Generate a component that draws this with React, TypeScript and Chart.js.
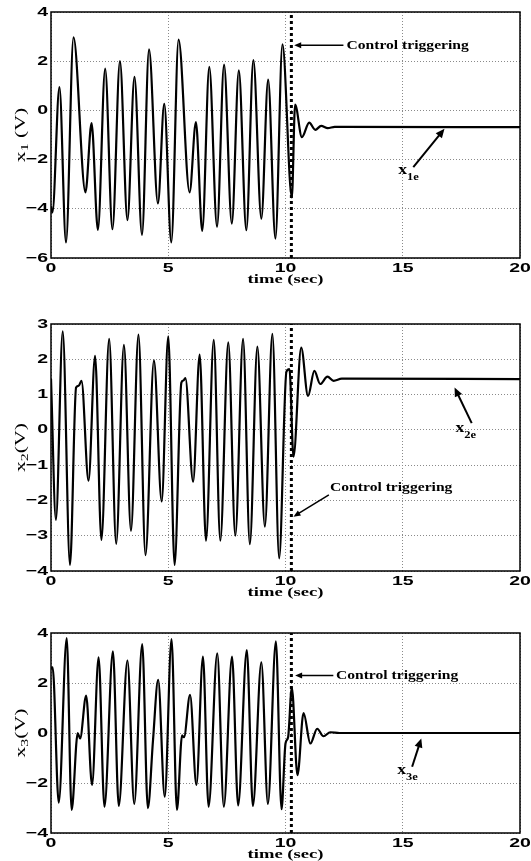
import React, { useEffect, useRef } from 'react';
import { Chart, registerables } from 'chart.js';

Chart.register(...registerables);

// ---------- data ----------
const xTicks = [0, 5, 10, 15, 20];
const y1Ticks = [-6, -4, -2, 0, 2, 4];
const y2Ticks = [-4, -3, -2, -1, 0, 1, 2, 3];
const y3Ticks = [-4, -2, 0, 2, 4];
const triggerTime = 10.25;

const t1 = [0, 0.06, 0.36, 0.64, 0.96, 1.47, 1.73, 2.0, 2.31, 2.62, 2.94, 3.26, 3.56, 3.88, 4.18, 4.56, 4.83, 5.13, 5.44, 5.91, 6.18, 6.45, 6.75, 7.08, 7.38, 7.71, 8.01, 8.33, 8.63, 8.97, 9.26, 9.57, 9.87, 10.27, 10.41, 10.7, 11.01, 11.27, 11.52, 11.8, 12.1, 20];
const x1 = [-3.9, -4.15, 0.95, -5.37, 2.97, -3.33, -0.52, -4.86, 1.7, -4.83, 2.0, -4.46, 1.36, -5.06, 2.48, -3.78, 0.27, -5.37, 2.88, -3.33, -0.48, -4.9, 1.77, -4.73, 1.86, -4.6, 1.63, -4.87, 2.04, -4.4, 1.25, -5.21, 2.68, -3.54, 0.24, -1.09, -0.5, -0.79, -0.63, -0.72, -0.67, -0.68];

const t2 = [0, 0.21, 0.5, 0.81, 1.07, 1.18, 1.3, 1.6, 1.88, 2.15, 2.48, 2.78, 3.11, 3.41, 3.73, 4.03, 4.39, 4.72, 5.0, 5.27, 5.56, 5.65, 5.73, 6.06, 6.34, 6.61, 6.94, 7.22, 7.56, 7.86, 8.19, 8.48, 8.8, 9.12, 9.44, 9.73, 10.04, 10.17, 10.34, 10.67, 10.96, 11.23, 11.48, 11.79, 12.05, 12.4, 20];
const x2 = [1.45, -2.55, 2.79, -3.83, 1.2, 1.25, 1.39, -1.44, 2.1, -3.12, 2.58, -3.23, 2.41, -2.86, 2.7, -3.55, 1.97, -2.03, 2.65, -3.83, 1.34, 1.4, 1.47, -1.47, 2.13, -3.14, 2.55, -3.14, 2.48, -3.0, 2.58, -3.24, 2.36, -2.74, 2.72, -3.64, 1.65, 1.72, -0.76, 2.33, 0.96, 1.67, 1.3, 1.51, 1.39, 1.45, 1.44];

const t3 = [0, 0.07, 0.33, 0.67, 0.88, 1.14, 1.24, 1.5, 1.75, 2.03, 2.28, 2.64, 2.89, 3.26, 3.55, 3.89, 4.13, 4.35, 4.57, 4.85, 5.14, 5.37, 5.59, 5.67, 5.93, 6.2, 6.48, 6.72, 7.09, 7.37, 7.72, 7.98, 8.35, 8.61, 8.97, 9.25, 9.59, 9.83, 10.0, 10.11, 10.27, 10.51, 10.77, 11.06, 11.35, 11.62, 11.91, 12.3, 20];
const x3 = [2.56, 2.63, -2.79, 3.8, -3.08, 0.0, -0.22, 1.5, -2.08, 3.03, -2.95, 3.27, -2.92, 2.9, -2.84, 3.56, -3.01, -0.29, 2.13, -2.55, 3.76, -3.08, -0.09, -0.17, 1.53, -2.08, 3.06, -2.95, 3.19, -2.95, 3.06, -2.9, 3.32, -2.92, 2.83, -2.84, 3.67, -3.05, -0.42, -0.17, 1.82, -1.69, 0.8, -0.42, 0.17, -0.13, 0.03, 0.0, 0.0];

const xTitle = 'time (sec)';
const triggerText = 'Control triggering';

// ---------- layout / style ----------
type Pt = { x: number; y: number };
type PanelCfg = {
  top: number; height: number; padTop: number; plotBottom: number;
  t: number[]; v: number[]; yTicks: number[]; sub: string; ySpace: string;
  trigText: Pt; trigFrom: Pt; trigTo: Pt;
  eqLabel: Pt; eqSub: string; eqFrom: Pt; eqTo: Pt;
};

const panels: PanelCfg[] = [
  {
    top: 0, height: 295, padTop: 12, plotBottom: 258,
    t: t1, v: x1, yTicks: y1Ticks, sub: '1', ySpace: ' ',
    trigText: { x: 12.6, y: 2.65 }, trigFrom: { x: 12.47, y: 2.65 }, trigTo: { x: 10.37, y: 2.65 },
    eqLabel: { x: 14.81, y: -2.45 }, eqSub: '1e', eqFrom: { x: 15.45, y: -2.31 }, eqTo: { x: 16.78, y: -0.75 },
  },
  {
    top: 295, height: 315, padTop: 29, plotBottom: 571 - 295,
    t: t2, v: x2, yTicks: y2Ticks, sub: '2', ySpace: '',
    trigText: { x: 11.9, y: -1.64 }, trigFrom: { x: 11.85, y: -1.84 }, trigTo: { x: 10.34, y: -2.46 },
    eqLabel: { x: 17.25, y: 0.05 }, eqSub: '2e', eqFrom: { x: 17.94, y: 0.19 }, eqTo: { x: 17.21, y: 1.2 },
  },
  {
    top: 610, height: 251, padTop: 23, plotBottom: 833 - 610,
    t: t3, v: x3, yTicks: y3Ticks, sub: '3', ySpace: '',
    trigText: { x: 12.15, y: 2.3 }, trigFrom: { x: 12.04, y: 2.3 }, trigTo: { x: 10.41, y: 2.3 },
    eqLabel: { x: 14.77, y: -1.51 }, eqSub: '3e', eqFrom: { x: 15.4, y: -1.35 }, eqTo: { x: 15.79, y: -0.22 },
  },
];

const TICK_FONT = 'bold 13px "Liberation Sans", Arial, sans-serif';
const TICK_SX = 1.5;
const TITLE_FONT = 'bold 13px "Liberation Serif", "Times New Roman", serif';
const TITLE_SX = 1.43;
const YLAB_FONT = '15px "Liberation Serif", "Times New Roman", serif';
const YLAB_SUB_FONT = '11px "Liberation Serif", "Times New Roman", serif';
const ANN_FONT = 'bold 13px "Liberation Serif", "Times New Roman", serif';
const ANN_SX = 1.2;
const EQ_FONT = 'bold 14px "Liberation Serif", "Times New Roman", serif';
const EQ_SUB_FONT = 'bold 10px "Liberation Serif", "Times New Roman", serif';

function fmt(v: number) {
  return v < 0 ? '\u2212' + Math.abs(v) : String(v);
}

function sText(ctx: CanvasRenderingContext2D, text: string, x: number, y: number, font: string, sx: number, align: CanvasTextAlign, rot = 0) {
  ctx.save();
  ctx.translate(x, y);
  if (rot) ctx.rotate(rot);
  ctx.scale(sx, 1);
  ctx.font = font;
  ctx.textAlign = align;
  ctx.textBaseline = 'middle';
  ctx.fillStyle = '#000';
  ctx.fillText(text, 0, 0);
  ctx.restore();
}

type Part = { text: string; font: string; dy: number };
function partsText(ctx: CanvasRenderingContext2D, parts: Part[], x: number, y: number, sx: number, align: 'left' | 'center', rot = 0) {
  ctx.save();
  ctx.translate(x, y);
  if (rot) ctx.rotate(rot);
  ctx.scale(sx, 1);
  ctx.textAlign = 'left';
  ctx.textBaseline = 'middle';
  ctx.fillStyle = '#000';
  let total = 0;
  const widths = parts.map((p) => { ctx.font = p.font; const w = ctx.measureText(p.text).width; total += w; return w; });
  let cx = align === 'center' ? -total / 2 : 0;
  parts.forEach((p, i) => {
    ctx.font = p.font;
    ctx.fillText(p.text, cx, p.dy);
    cx += widths[i];
  });
  ctx.restore();
}

function arrow(ctx: CanvasRenderingContext2D, x0: number, y0: number, x1: number, y1: number, lw: number, hl: number, hw: number) {
  const a = Math.atan2(y1 - y0, x1 - x0);
  const c = Math.cos(a), s = Math.sin(a);
  ctx.save();
  ctx.strokeStyle = '#000';
  ctx.fillStyle = '#000';
  ctx.lineWidth = lw;
  ctx.beginPath();
  ctx.moveTo(x0, y0);
  ctx.lineTo(x1 - c * hl * 0.8, y1 - s * hl * 0.8);
  ctx.stroke();
  ctx.beginPath();
  ctx.moveTo(x1, y1);
  ctx.lineTo(x1 - hl * c + hw * s, y1 - hl * s - hw * c);
  ctx.lineTo(x1 - hl * c - hw * s, y1 - hl * s + hw * c);
  ctx.closePath();
  ctx.fill();
  ctx.restore();
}

function decorPlugin(cfg: PanelCfg) {
  return {
    id: 'decor',
    afterDraw(chart: any) {
      const ctx: CanvasRenderingContext2D = chart.ctx;
      const { left, right, top, bottom } = chart.chartArea;
      const xs = chart.scales.x;
      const ys = chart.scales.y;
      // box
      ctx.save();
      ctx.strokeStyle = '#000';
      ctx.lineWidth = 1.5;
      ctx.strokeRect(left, top, right - left, bottom - top);
      ctx.restore();
      // tick labels
      xs.ticks.forEach((tk: any) => {
        sText(ctx, fmt(tk.value), xs.getPixelForValue(tk.value), bottom + 10, TICK_FONT, TICK_SX, 'center');
      });
      ys.ticks.forEach((tk: any) => {
        sText(ctx, fmt(tk.value), left - 3, ys.getPixelForValue(tk.value), TICK_FONT, TICK_SX, 'right');
      });
      // axis titles
      sText(ctx, xTitle, (left + right) / 2, bottom + 22, TITLE_FONT, TITLE_SX, 'center');
      partsText(ctx, [
        { text: 'x', font: YLAB_FONT, dy: 0 },
        { text: cfg.sub, font: YLAB_SUB_FONT, dy: 4 },
        { text: cfg.ySpace + '(V)', font: YLAB_FONT, dy: 0 },
      ], 21, (top + bottom) / 2, 1.45, 'center', -Math.PI / 2);
      // control triggering annotation
      const px = (p: Pt) => [xs.getPixelForValue(p.x), ys.getPixelForValue(p.y)];
      const [tx, ty] = px(cfg.trigText);
      sText(ctx, triggerText, tx, ty, ANN_FONT, ANN_SX, 'left');
      const [fx, fy] = px(cfg.trigFrom);
      const [ox, oy] = px(cfg.trigTo);
      arrow(ctx, fx, fy, ox, oy, 1.5, 7, 3);
      // equilibrium annotation
      const [ex, ey] = px(cfg.eqLabel);
      partsText(ctx, [
        { text: 'x', font: EQ_FONT, dy: 0 },
        { text: cfg.eqSub, font: EQ_SUB_FONT, dy: 7 },
      ], ex, ey, 1.25, 'left');
      const [gx, gy] = px(cfg.eqFrom);
      const [hx, hy] = px(cfg.eqTo);
      arrow(ctx, gx, gy, hx, hy, 2, 9, 4);
    },
  };
}

function Panel({ cfg }: { cfg: PanelCfg }) {
  const ref = useRef<HTMLCanvasElement>(null);
  useEffect(() => {
    const canvas = ref.current!;
    const yMin = cfg.yTicks[0];
    const yMax = cfg.yTicks[cfg.yTicks.length - 1];
    const chart = new Chart(canvas, {
      type: 'line',
      data: {
        datasets: [
          {
            data: cfg.t.map((t, i) => ({ x: t, y: cfg.v[i] })),
            borderColor: '#000',
            borderWidth: 2.2,
            pointRadius: 0,
            cubicInterpolationMode: 'monotone',
            fill: false,
          },
          {
            data: [{ x: triggerTime, y: yMin }, { x: triggerTime, y: yMax }],
            borderColor: '#000',
            borderWidth: 3,
            borderDash: [3, 3],
            borderCapStyle: 'butt',
            pointRadius: 0,
            tension: 0,
            fill: false,
          },
        ],
      } as any,
      options: {
        responsive: false,
        animation: false,
        devicePixelRatio: 1,
        events: [],
        layout: { padding: { top: cfg.padTop, right: 11, left: 0, bottom: 0 } },
        plugins: { legend: { display: false }, tooltip: { enabled: false } },
        scales: {
          x: {
            type: 'linear', min: 0, max: 20,
            afterBuildTicks: (s: any) => { s.ticks = xTicks.map((v) => ({ value: v })); },
            afterFit: (s: any) => { s.height = cfg.height - cfg.plotBottom; },
            ticks: { display: false },
            grid: { color: '#8a8a8a', lineWidth: 1, drawTicks: false },
            border: { display: false, dash: [1, 2] },
          },
          y: {
            type: 'linear', min: yMin, max: yMax,
            afterBuildTicks: (s: any) => { s.ticks = cfg.yTicks.map((v) => ({ value: v })); },
            afterFit: (s: any) => { s.width = 51; },
            ticks: { display: false },
            grid: { color: '#8a8a8a', lineWidth: 1, drawTicks: false },
            border: { display: false, dash: [1, 2] },
          },
        },
      } as any,
      plugins: [decorPlugin(cfg)],
    });
    return () => chart.destroy();
  }, [cfg]);
  return (
    <canvas
      ref={ref}
      width={531}
      height={cfg.height}
      style={{ position: 'absolute', left: 0, top: cfg.top, display: 'block' }}
    />
  );
}

export default function App() {
  return (
    <div style={{ position: 'absolute', left: 0, top: 0, width: 531, height: 861, background: '#fff' }}>
      {panels.map((p, i) => <Panel key={i} cfg={p} />)}
    </div>
  );
}
